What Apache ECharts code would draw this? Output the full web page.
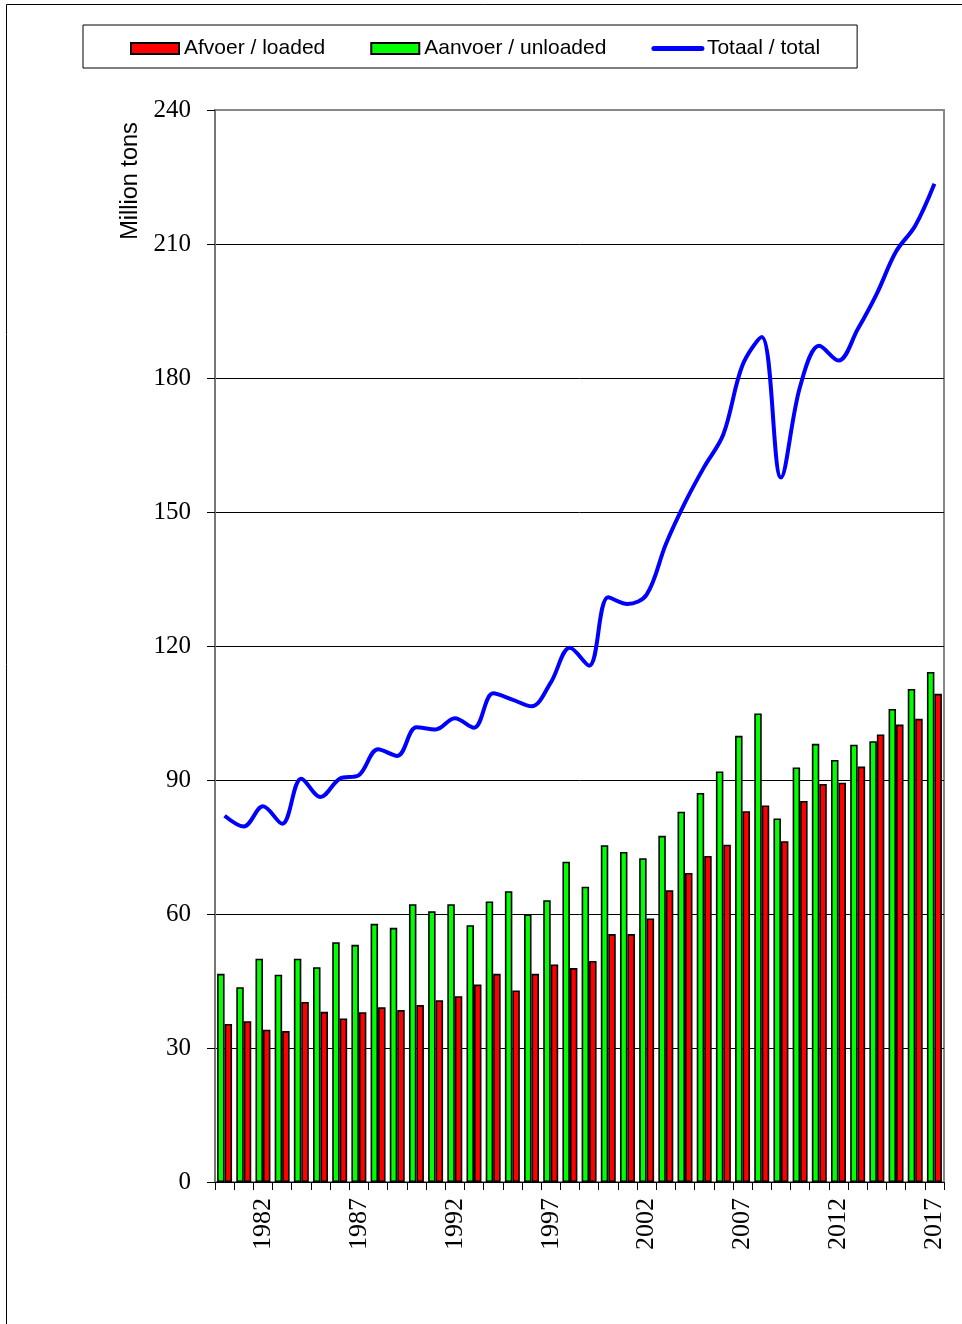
<!DOCTYPE html>
<html>
<head>
<meta charset="utf-8">
<script src="https://cdn.jsdelivr.net/npm/echarts@6/dist/echarts.min.js"></script>
<style>
  html, body { margin: 0; padding: 0; background: #fff; }
  #chart { width: 962px; height: 1324px; }
</style>
</head>
<body>
<div id="chart"></div>
<script>
const years = ['1980', '1981', '1982', '1983', '1984', '1985', '1986', '1987', '1988', '1989',
  '1990', '1991', '1992', '1993', '1994', '1995', '1996', '1997', '1998', '1999',
  '2000', '2001', '2002', '2003', '2004', '2005', '2006', '2007', '2008', '2009',
  '2010', '2011', '2012', '2013', '2014', '2015', '2016', '2017']

// Aanvoer / unloaded (green)
const unloaded = [46.6, 43.6, 50.0, 46.4, 50.0, 48.1, 53.7, 53.1, 57.8, 56.9,
  62.2, 60.6, 62.2, 57.5, 62.8, 65.1, 59.9, 63.1, 71.7, 66.1,
  75.4, 73.9, 72.5, 77.5, 82.9, 87.1, 91.9, 99.9, 104.9, 81.4,
  92.8, 98.1, 94.5, 97.9, 98.7, 105.9, 110.4, 114.2]

// Afvoer / loaded (red)
const loaded = [35.4, 36.0, 34.1, 33.8, 40.3, 38.1, 36.6, 38.0, 39.1, 38.5,
  39.6, 40.7, 41.6, 44.2, 46.6, 42.9, 46.6, 48.7, 47.9, 49.5,
  55.5, 55.5, 59.0, 65.3, 69.2, 73.0, 75.5, 83.0, 84.3, 76.3,
  85.3, 89.1, 89.4, 93.0, 100.2, 102.4, 103.7, 109.3]

// Totaal / total (blue line)
const total = [82.0, 79.6, 84.1, 80.2, 90.3, 86.2, 90.3, 91.1, 96.9, 95.4,
  101.8, 101.3, 103.8, 101.7, 109.4, 108.0, 106.5, 111.8, 119.6, 115.6,
  130.9, 129.4, 131.5, 142.8, 152.1, 160.1, 167.4, 182.9, 189.2, 157.7,
  178.1, 187.2, 183.9, 190.9, 198.9, 208.3, 214.1, 223.5]

const yTicks = [0, 30, 60, 90, 120, 150, 180, 210, 240]

const chart = echarts.init(document.getElementById('chart'))
chart.setOption({
  animation: false,
  backgroundColor: '#fff',
  graphic: [
    {
      type: 'rect',
      shape: { x: 6.5, y: 4.5, width: 1000, height: 1400 },
      style: { fill: 'none', stroke: '#000', lineWidth: 1 },
      silent: true
    },
    {
      type: 'text',
      x: 131,
      y: 181,
      rotation: Math.PI / 2,
      style: {
        text: 'Million tons',
        font: '23.5px "Liberation Sans", Arial, sans-serif',
        fill: '#000',
        align: 'center',
        verticalAlign: 'middle'
      }
    }
  ],
  legend: {
    left: 83,
    top: 25,
    padding: [13, 37, 9, 47],
    borderColor: '#000',
    borderWidth: 1,
    itemWidth: 48,
    itemHeight: 11,
    itemGap: 45,
    textStyle: {
      fontFamily: '"Liberation Sans", Arial, sans-serif',
      fontSize: 21,
      color: '#000'
    },
    data: [
      { name: 'Afvoer / loaded', icon: 'rect' },
      { name: 'Aanvoer / unloaded', icon: 'rect' },
      { name: 'Totaal / total', itemStyle: { opacity: 0 }, lineStyle: { width: 5, cap: 'round' } }
    ]
  },
  grid: {
    left: 215,
    right: 18,
    top: 110,
    bottom: 142,
    show: true,
    borderColor: '#888',
    borderWidth: 2
  },
  xAxis: {
    type: 'category',
    data: years,
    boundaryGap: true,
    axisLine: { lineStyle: { color: '#000', width: 1 } },
    axisTick: { show: true, interval: 0, length: 8, lineStyle: { color: '#000' } },
    axisLabel: {
      interval: (idx) => (idx - 2) % 5 === 0,
      rotate: 90,
      margin: 16,
      fontFamily: '"Liberation Serif", "Times New Roman", serif',
      fontSize: 26,
      color: '#000'
    },
    splitLine: { show: false }
  },
  yAxis: {
    type: 'value',
    min: yTicks[0],
    max: yTicks[yTicks.length - 1],
    interval: 30,
    axisLine: { show: true, lineStyle: { color: '#777', width: 2 } },
    axisTick: { show: true, length: 8, lineStyle: { color: '#000' } },
    axisLabel: {
      margin: 24,
      fontFamily: '"Liberation Serif", "Times New Roman", serif',
      fontSize: 25,
      color: '#000'
    },
    splitLine: {
      show: true,
      showMinLine: false,
      showMaxLine: false,
      lineStyle: { color: '#000', width: 1 }
    }
  },
  series: [
    {
      name: 'Aanvoer / unloaded',
      type: 'bar',
      data: unloaded,
      barGap: 0,
      barCategoryGap: '22%',
      itemStyle: { color: '#00ff00', borderColor: '#000', borderWidth: 1.6 }
    },
    {
      name: 'Afvoer / loaded',
      type: 'bar',
      data: loaded,
      barGap: 0,
      barCategoryGap: '22%',
      itemStyle: { color: '#ff0000', borderColor: '#000', borderWidth: 1.6 }
    },
    {
      name: 'Totaal / total',
      type: 'line',
      data: total,
      smooth: 0.35,
      symbol: 'none',
      z: 5,
      itemStyle: { color: '#0000ff' },
      lineStyle: { color: '#0000ff', width: 4 }
    }
  ]
})
</script>
</body>
</html>
